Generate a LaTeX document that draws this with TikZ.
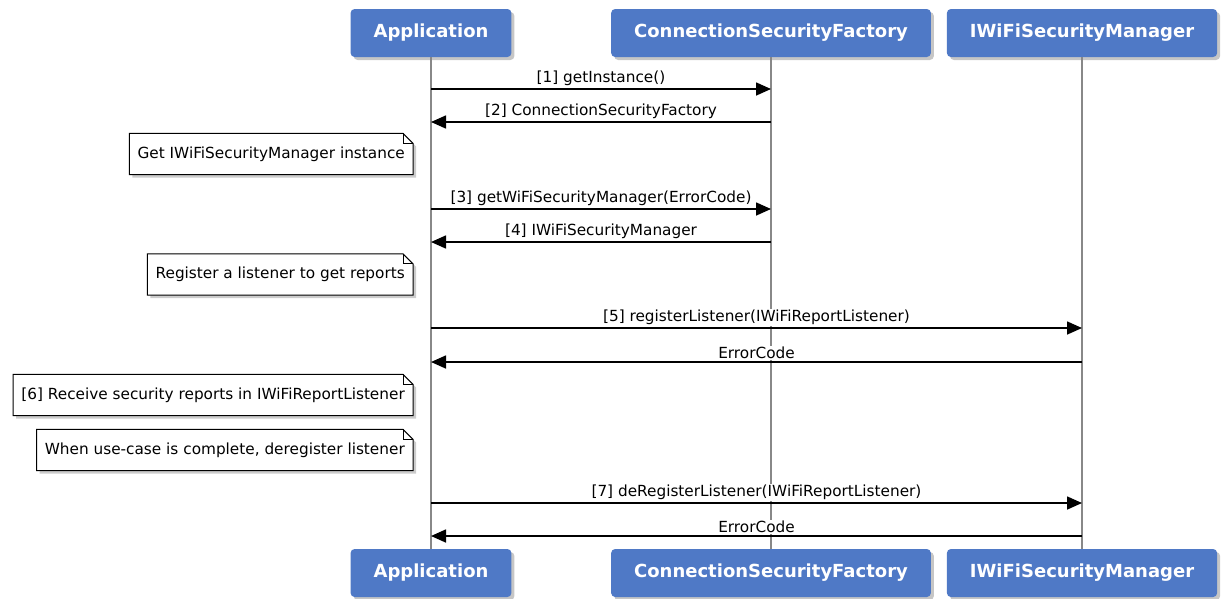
\documentclass[tikz,border=0pt]{standalone}
\usepackage{fontspec}
\setmainfont{DejaVu Sans}
\usetikzlibrary{arrows.meta,shadows}
\definecolor{boxblue}{HTML}{4F79C6}
\definecolor{lifegray}{HTML}{888888}
\tikzset{
  actor/.style={rounded corners=4pt, fill=boxblue, text=white, minimum height=48pt,
    inner xsep=23pt, font=\fontsize{18}{22}\selectfont\bfseries,
    drop shadow={shadow xshift=3pt, shadow yshift=-3pt, opacity=0.45}},
  msg/.style={line width=1.6pt, -{Triangle[length=15pt,width=13pt]}},
  msglabel/.style={midway, above=1.5pt, fill=white, inner sep=1pt, font=\fontsize{15.3}{18}\selectfont},
  notebox/.style={anchor=east, minimum height=41pt, inner xsep=8pt, inner ysep=0pt,
    font=\fontsize{15.3}{18}\selectfont}
}
\begin{document}
\begin{tikzpicture}[x=1pt,y=-1pt]
  \useasboundingbox (0,0) rectangle (1222,598);
  % participants, top and bottom
  \foreach \nm/\xc/\txt in {app/431/Application, csf/771/ConnectionSecurityFactory,
      mgr/1082/IWiFiSecurityManager}{
    \node[actor] (\nm) at (\xc,33) {\txt};
    \node[actor] (\nm B) at (\xc,573) {\txt};
  }
  % lifelines
  \foreach \nm in {app,csf,mgr}
    \draw[lifegray, line width=1.5pt] (\nm.south) -- (\nm B.north);
  % messages
  \draw[msg] (app.south |- 0,89) -- (csf.south |- 0,89) node[msglabel] {[1] getInstance()};
  \draw[msg] (csf.south |- 0,122) -- (app.south |- 0,122) node[msglabel] {[2] ConnectionSecurityFactory};
  \draw[msg] (app.south |- 0,209) -- (csf.south |- 0,209) node[msglabel] {[3] getWiFiSecurityManager(ErrorCode)};
  \draw[msg] (csf.south |- 0,242) -- (app.south |- 0,242) node[msglabel] {[4] IWiFiSecurityManager};
  \draw[msg] (app.south |- 0,328) -- (mgr.south |- 0,328) node[msglabel] {[5] registerListener(IWiFiReportListener)};
  \draw[msg] (mgr.south |- 0,362) -- (app.south |- 0,362) node[msglabel] {ErrorCode};
  \draw[msg] (app.south |- 0,503) -- (mgr.south |- 0,503) node[msglabel] {[7] deRegisterListener(IWiFiReportListener)};
  \draw[msg] (mgr.south |- 0,536) -- (app.south |- 0,536) node[msglabel] {ErrorCode};
  % notes with folded corner
  \foreach \nm/\yc/\txt in {noteA/154/{Get IWiFiSecurityManager instance},
      noteB/274.5/{Register a listener to get reports},
      noteC/395/{[6] Receive security reports in IWiFiReportListener},
      noteD/450/{When use-case is complete, deregister listener}}{
    \node[notebox] (\nm) at (413,\yc) {\txt};
    \draw[line width=1pt, fill=white, drop shadow={shadow xshift=3pt, shadow yshift=-3pt, opacity=0.4}]
      (\nm.north west) -- ([xshift=-10pt]\nm.north east) -- ([yshift=-10pt]\nm.north east)
      -- (\nm.south east) -- (\nm.south west) -- cycle;
    \draw[line width=0.8pt] ([xshift=-10pt]\nm.north east) -- ([xshift=-10pt,yshift=-10pt]\nm.north east)
      -- ([yshift=-10pt]\nm.north east);
    \node[notebox] at (413,\yc) {\txt};
  }
\end{tikzpicture}
\end{document}
